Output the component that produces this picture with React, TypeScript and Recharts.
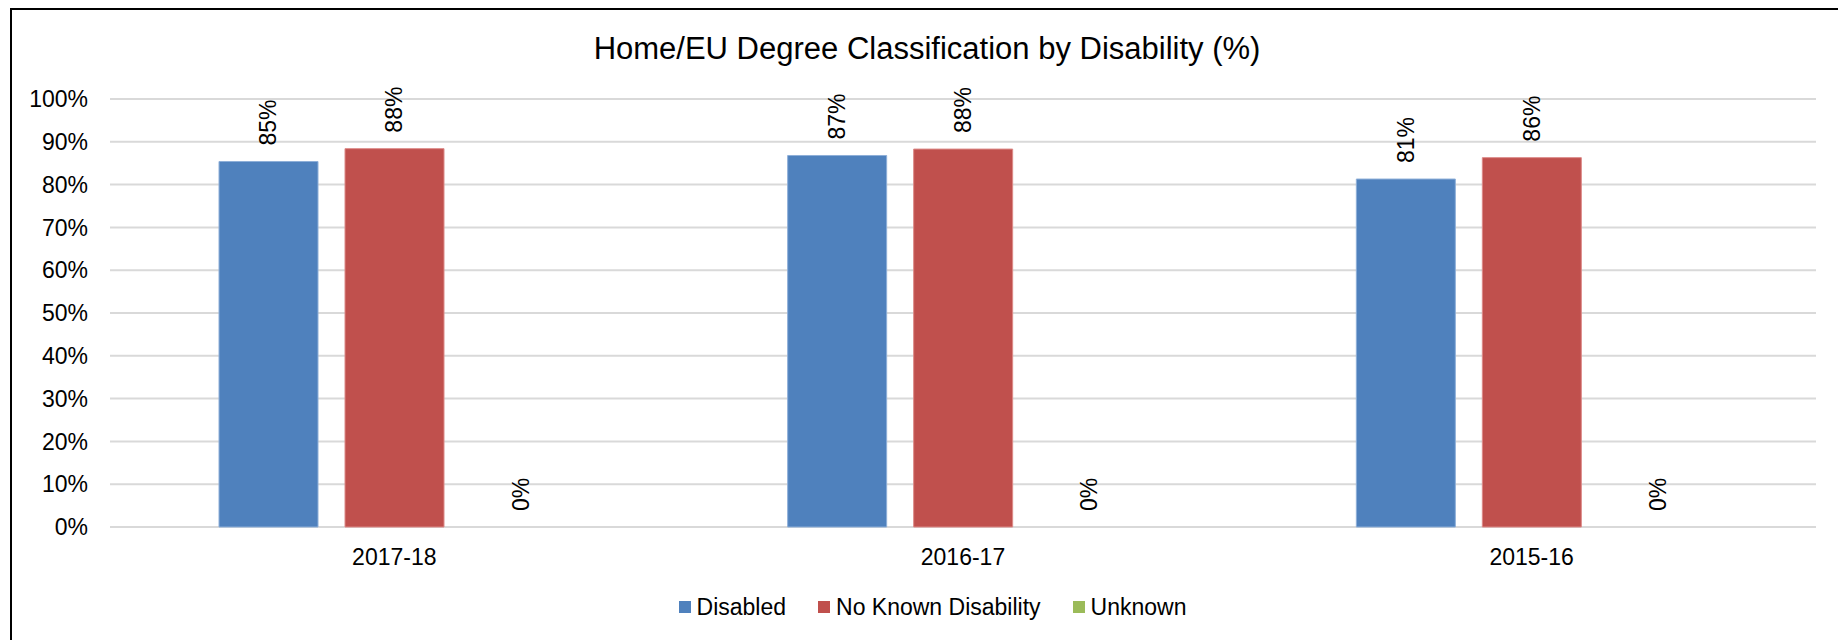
import React from 'react';
import { BarChart, Bar, XAxis, YAxis, CartesianGrid, Legend, LabelList, Cell } from 'recharts';

// Values (percent)
const years = ['2017-18', '2016-17', '2015-16'];
const disabled = [85.4, 86.8, 81.3];
const noKnownDisability = [88.4, 88.3, 86.3];
const unknown = [0, 0, 0];
const yTicks = [0, 10, 20, 30, 40, 50, 60, 70, 80, 90, 100];

const series = [
  { key: 'disabled', name: 'Disabled', color: '#4F81BD', edge: '#8EAFD8', values: disabled },
  { key: 'noKnown', name: 'No Known Disability', color: '#C0504D', edge: '#DC8A88', values: noKnownDisability },
  { key: 'unknown', name: 'Unknown', color: '#9BBB59', edge: '#BCD48F', values: unknown },
];

const data = years.map((year, i) => ({
  year,
  disabled: disabled[i],
  noKnown: noKnownDisability[i],
  unknown: unknown[i],
}));

const FONT = '"Liberation Sans", Arial, sans-serif';

const RotatedLabel = (props: any) => {
  const { x, y, width, height, value } = props;
  const cx = x + width / 2;
  // zero bars get a 1px min size so the label still renders; anchor on the baseline
  const top = value === 0 ? y + height : y;
  const ty = top - 16;
  return (
    <text
      x={cx}
      y={ty}
      transform={`rotate(-90, ${cx}, ${ty})`}
      textAnchor="start"
      dominantBaseline="central"
      fontSize={23}
      fontFamily={FONT}
      fill="#000"
    >
      {`${Math.round(value)}%`}
    </text>
  );
};

const renderLegend = () => (
  <div
    style={{
      display: 'flex',
      justifyContent: 'center',
      alignItems: 'center',
      height: 40,
      paddingLeft: 27,
      fontFamily: FONT,
      fontSize: 23,
      color: '#000',
    }}
  >
    {series.map((s, i) => (
      <div
        key={s.key}
        style={{ display: 'flex', alignItems: 'center', marginRight: i < series.length - 1 ? 32 : 0 }}
      >
        <span style={{ display: 'inline-block', width: 12, height: 12, background: s.color, marginRight: 6 }} />
        <span>{s.name}</span>
      </div>
    ))}
  </div>
);

export default function App() {
  return (
    <div
      style={{
        position: 'absolute',
        left: 0,
        top: 0,
        width: 1838,
        height: 640,
        overflow: 'hidden',
        background: '#fff',
        fontFamily: FONT,
      }}
    >
      <div
        style={{
          position: 'absolute',
          left: 10,
          top: 8,
          width: 2000,
          height: 800,
          borderTop: '2px solid #000',
          borderLeft: '2px solid #000',
        }}
      />
      <div
        style={{
          position: 'absolute',
          left: 0,
          width: 1854,
          top: 33,
          textAlign: 'center',
          fontSize: 31,
          lineHeight: '31px',
          color: '#000',
          whiteSpace: 'nowrap',
        }}
      >
        Home/EU Degree Classification by Disability (%)
      </div>
      <div style={{ position: 'absolute', left: 0, top: 0 }}>
        <BarChart
          width={1838}
          height={640}
          data={data}
          margin={{ top: 99, right: 22, left: 0, bottom: 13 }}
          barSize={99}
          barGap={27}
        >
          <CartesianGrid vertical={false} stroke="#d9d9d9" strokeWidth={2} />
          <XAxis
            dataKey="year"
            axisLine={false}
            tickLine={false}
            tickSize={6}
            tickMargin={16}
            height={60}
            tick={{ fill: '#000', fontSize: 23, fontFamily: FONT }}
          />
          <YAxis
            domain={[0, 100]}
            ticks={yTicks}
            tickFormatter={(v: number) => `${v}%`}
            axisLine={false}
            tickLine={false}
            tickSize={6}
            tickMargin={16}
            width={110}
            tick={{ fill: '#000', fontSize: 23, fontFamily: FONT }}
          />
          <Legend
            verticalAlign="bottom"
            content={renderLegend}
            wrapperStyle={{ left: 0, width: 1838, height: 40 }}
          />
          {series.map((s) => (
            <Bar
              key={s.key}
              dataKey={s.key}
              name={s.name}
              fill={s.color}
              stroke={s.edge}
              strokeWidth={1}
              minPointSize={1}
              isAnimationActive={false}
            >
              {s.values.map((v, i) => (
                <Cell key={i} fillOpacity={v === 0 ? 0 : 1} strokeOpacity={v === 0 ? 0 : 1} />
              ))}
              <LabelList dataKey={s.key} content={RotatedLabel} />
            </Bar>
          ))}
        </BarChart>
      </div>
    </div>
  );
}
